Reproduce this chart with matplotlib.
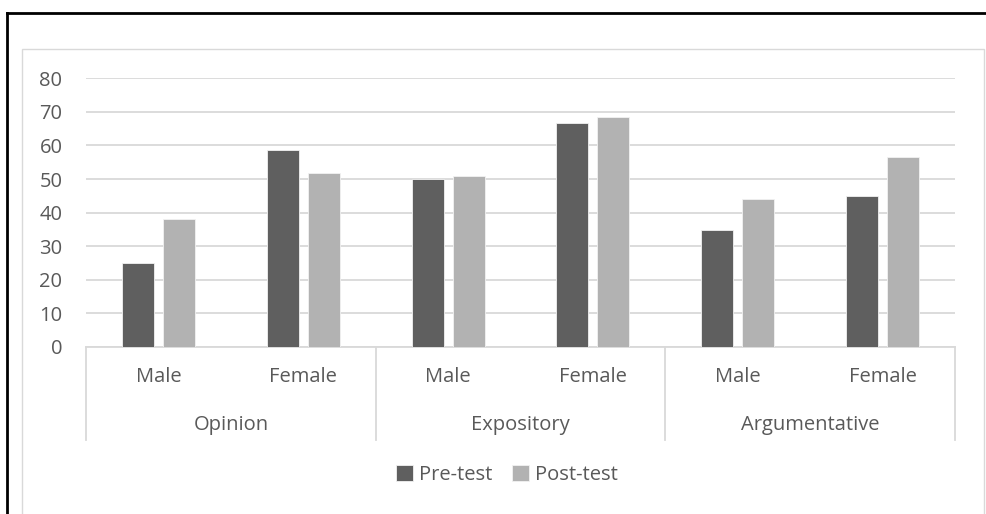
import matplotlib.pyplot as plt
import numpy as np
from matplotlib.patches import Rectangle
from matplotlib.lines import Line2D
from matplotlib.transforms import blended_transform_factory

# writing scores by genre and gender
genres = ["Opinion", "Expository", "Argumentative"]
genders = ["Male", "Female"]
pre_test = [25, 58.6, 50, 66.6, 34.8, 45]
post_test = [38, 51.7, 50.9, 68.4, 44.2, 56.6]
y_ticks = [0, 10, 20, 30, 40, 50, 60, 70, 80]

DARK = "#5f5f5f"
LIGHT = "#b2b2b2"
GRID = "#d9d9d9"
TEXT = "#595959"
FS = 14.5

plt.rcParams['font.family'] = ['Open Sans', 'DejaVu Sans']

W, H = 986, 514
fig = plt.figure(figsize=(W / 100, H / 100), dpi=100)

# page frame: black edge on top/left, light chart box inside
fig.add_artist(Line2D([7 / W, 7 / W], [0, 1 - 13 / H], transform=fig.transFigure,
                      color="black", lw=2))
fig.add_artist(Line2D([7 / W, 1], [1 - 13 / H, 1 - 13 / H], transform=fig.transFigure,
                      color="black", lw=2))
fig.add_artist(Rectangle((22 / W, -0.01), (984 - 22) / W, 1 - 49 / H + 0.01,
                         transform=fig.transFigure, fill=False, edgecolor=GRID, lw=1))

ax = fig.add_axes([86 / W, 1 - 347 / H, (955 - 86) / W, (347 - 78.3) / H])

x = np.arange(len(pre_test))
bw = 0.221
off = 0.1416
ax.bar(x - off, pre_test, bw, color=DARK, edgecolor="#f2f2f2", lw=0.6, label="Pre-test", zorder=3)
ax.bar(x + off, post_test, bw, color=LIGHT, edgecolor="#f2f2f2", lw=0.6, label="Post-test", zorder=3)

ax.set_xlim(-0.5, len(pre_test) - 0.5)
ax.set_ylim(0, 80)
ax.set_yticks(y_ticks)
ax.yaxis.grid(True, color=GRID, lw=1.3, zorder=0)
ax.set_axisbelow(True)
for s in ["top", "right", "left"]:
    ax.spines[s].set_visible(False)
ax.spines["bottom"].set_color(GRID)
ax.spines["bottom"].set_linewidth(1.3)
ax.tick_params(axis="y", length=0, pad=17, labelsize=FS, labelcolor=TEXT)
ax.set_xticks([])

# two-level category axis
trans = blended_transform_factory(ax.transData, ax.transAxes)
ax_h = 347 - 78.3
for b in [-0.5, 1.5, 3.5, 5.5]:
    ax.add_artist(Line2D([b, b], [0, -(440 - 347) / ax_h], transform=trans,
                         color=GRID, lw=1.3, clip_on=False))
for i in range(len(pre_test)):
    ax.text(i, -(377 - 347) / ax_h, genders[i % 2], transform=trans, ha="center",
            va="center", fontsize=FS, color=TEXT)
for g, name in enumerate(genres):
    ax.text(2 * g + 0.5, -(425 - 347) / ax_h, name, transform=trans, ha="center",
            va="center", fontsize=FS, color=TEXT)

leg = ax.legend(loc="center", bbox_to_anchor=((507 - 86) / 869, -(475 - 347) / ax_h), ncol=2,
                frameon=False, fontsize=FS, handlelength=0.85, handleheight=0.85,
                handletextpad=0.3, columnspacing=1.0, labelcolor=TEXT)

fig.savefig("out.png", dpi=100)
